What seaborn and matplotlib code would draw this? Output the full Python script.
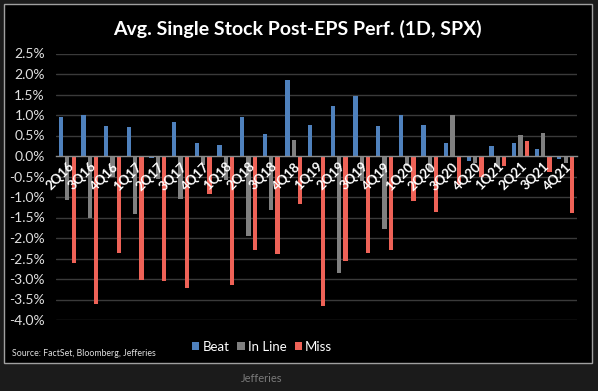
import matplotlib
matplotlib.use("Agg")
import matplotlib.pyplot as plt
import matplotlib.patches as mpatches
from matplotlib.ticker import FuncFormatter, MultipleLocator, FixedLocator
import seaborn as sns
import pandas as pd

quarters = ['2Q16', '3Q16', '4Q16', '1Q17', '2Q17', '3Q17', '4Q17', '1Q18', '2Q18', '3Q18', '4Q18',
            '1Q19', '2Q19', '3Q19', '4Q19', '1Q20', '2Q20', '3Q20', '4Q20', '1Q21', '2Q21', '3Q21', '4Q21']
beat = [0.94, 0.99, 0.73, 0.71, -0.06, 0.82, 0.31, 0.28, 0.94, 0.54, 1.85,
        0.76, 1.22, 1.46, 0.72, 0.99, 0.76, 0.32, -0.13, 0.24, 0.32, 0.16, -0.07]
in_line = [-1.07, -1.52, -0.50, -1.42, -0.55, -1.05, -0.22, -0.58, -1.94, -1.32, 0.38,
           0.0, -2.86, -0.60, -1.78, -0.25, -0.40, 0.99, -0.17, -0.28, 0.52, 0.57, -0.18]
miss = [-2.62, -3.62, -2.37, -3.02, -3.04, -3.23, -0.93, -3.15, -2.29, -2.39, -1.17,
        -3.65, -2.55, -2.37, -2.29, -1.10, -1.36, -0.70, -0.50, -0.24, 0.36, -0.38, -1.40]
series_names = ['Beat', 'In Line', 'Miss']
colors = ['#4f81bd', '#808080', '#ee6257']
y_ticks = [2.5, 2.0, 1.5, 1.0, 0.5, 0.0, -0.5, -1.0, -1.5, -2.0, -2.5, -3.0, -3.5, -4.0]

df = pd.concat([
    pd.DataFrame({'quarter': quarters, 'type': name, 'value': vals})
    for name, vals in zip(series_names, [beat, in_line, miss])
], ignore_index=True)

sns.set_style('dark')
plt.rcParams['font.family'] = ['Lato', 'DejaVu Sans']

W, H = 598, 391
fig = plt.figure(figsize=(W / 100, H / 100), dpi=100, facecolor='#1b1b1b')

# black chart panel with light border
panel = mpatches.Rectangle((4 / W, 1 - 363 / H), 588 / W, 359 / H, transform=fig.transFigure,
                           facecolor='black', edgecolor='#a0a0a0', lw=1.0, zorder=-10)
fig.add_artist(panel)

ax = fig.add_axes([56 / W, 1 - 320 / H, 521 / W, 266.5 / H])
ax.set_zorder(1)
ax.set_facecolor('black')

# horizontal gridlines behind the bars
for yv in y_ticks:
    if yv != 0:
        ax.axhline(yv, color='#3a3a3a', lw=1.0, zorder=0)

sns.barplot(data=df, x='quarter', y='value', hue='type', hue_order=series_names,
            palette=colors, width=0.84, gap=0.32, ax=ax, legend=False,
            saturation=1, linewidth=0)

ax.set_xlim(-0.5, len(quarters) - 0.5)
ax.set_ylim(-4.0, 2.5)
ax.yaxis.set_major_locator(FixedLocator(y_ticks))
ax.yaxis.set_major_formatter(FuncFormatter(lambda v, p: f'{v:.1f}%'))
ax.grid(False)
ax.set_axisbelow(False)
ax.set_xlabel('')
ax.set_ylabel('')

for s in ['top', 'right', 'left']:
    ax.spines[s].set_visible(False)
ax.spines['bottom'].set_position(('data', 0))
ax.spines['bottom'].set_color('#8a8a8a')
ax.spines['bottom'].set_linewidth(1.0)
ax.spines['bottom'].set_visible(True)

ax.tick_params(axis='y', length=0, pad=8, labelsize=10, labelcolor='#e0e0e0')
ax.tick_params(axis='x', which='major', length=0, pad=3, labelsize=9.5, labelcolor='white')
ax.xaxis.set_minor_locator(FixedLocator([i + 0.5 for i in range(-1, len(quarters))]))
ax.tick_params(axis='x', which='minor', length=3, color='#8a8a8a', direction='out')
for lab in ax.get_xticklabels():
    lab.set_rotation(45)
    lab.set_ha('right')
    lab.set_rotation_mode('anchor')
    lab.set_fontweight('bold')

fig.text(297 / W, 1 - 29 / H, 'Avg. Single Stock Post-EPS Perf. (1D, SPX)', ha='center', va='center',
         color='white', fontsize=14, fontweight='bold')

handles = [mpatches.Patch(facecolor=c, edgecolor='none', label=n) for c, n in zip(colors, series_names)]
leg = fig.legend(handles=handles, loc='center', bbox_to_anchor=(262 / W, 1 - 347 / H), ncol=3,
                 frameon=False, fontsize=9.5, handlelength=0.55, handleheight=0.55,
                 handletextpad=0.25, columnspacing=0.6, borderpad=0)
for t in leg.get_texts():
    t.set_color('white')

fig.text(12 / W, 1 - 354 / H, 'Source: FactSet, Bloomberg, Jefferies', ha='left', va='center',
         color='#e0e0e0', fontsize=6.3)
fig.text(262 / W, 1 - 378 / H, 'Jefferies', ha='center', va='center', color='#7a7a7a', fontsize=8)

fig.savefig('out.png', dpi=100, facecolor=fig.get_facecolor())
